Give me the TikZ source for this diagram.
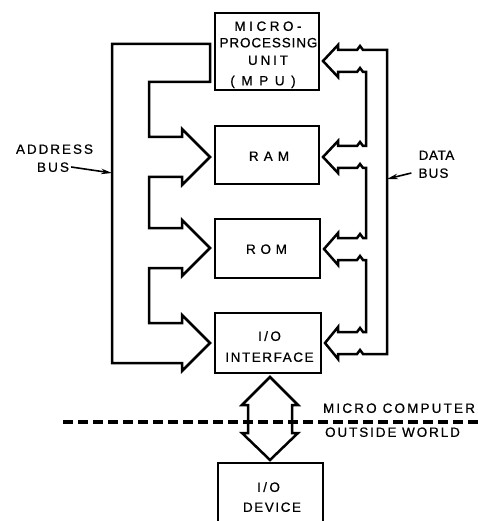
\documentclass[tikz,border=0pt]{standalone}
\usepackage{fontspec}
\setmainfont{Liberation Sans}
\newfontfamily\lett[FakeBold=0.6]{Liberation Sans}
\usetikzlibrary{arrows.meta}

\tikzset{
  boxframe/.style={draw, line width=2.6pt, rectangle, inner sep=0pt},
  bus/.style={draw, line width=2.5pt, line join=miter},
  lbl/.style={font=\lett\fontsize{13.5}{15}\selectfont\addfontfeature{LetterSpace=#1},
              inner sep=0pt, text height=9.7pt, text depth=0pt},
  lbl/.default=14,
  lblarrow/.style={line width=1.6pt, -{Stealth[length=11pt,width=5.5pt]}},
  border/.style={line width=4.5pt, dash pattern=on 10pt off 5pt},
}

\begin{document}
\begin{tikzpicture}[x=1pt,y=-1pt]
\useasboundingbox (0,0) rectangle (478,521);

% ---- functional blocks ----
\node[boxframe, minimum width=104pt, minimum height=77pt] (mpu) at (267,51.5) {};
\node[boxframe, minimum width=104pt, minimum height=58pt] (ram) at (267,155) {};
\node[boxframe, minimum width=105pt, minimum height=59pt] (rom) at (267.5,248.5) {};
\node[boxframe, minimum width=106pt, minimum height=60pt] (io)  at (268,343) {};

\node[lbl=26]  (mpu1) at (268,26)   {MICRO-};
\node[lbl=6.5] (mpu2) at (268.5,42.5) {PROCESSING};
\node[lbl=21]  (mpu3) at (268,60)   {UNIT};
\node[lbl=21]  (mpu4) at (263,80.5) {( M P U )};
\node[lbl=10]  (ramt) at (269,156) {R A M};
\node[lbl=7]   (romt) at (266.5,249) {R O M};
\node[lbl=18]  (io1)  at (269.5,336) {I/O};
\node[lbl=11.5] (io2) at (269.5,357) {INTERFACE};

% ---- I/O device (runs off the lower edge) ----
\begin{scope}
  \clip (0,0) rectangle (478,521);
  \coordinate (devbl) at (218,540);
  \coordinate (devtl) at (218,463);
  \coordinate (devtr) at (323,463);
  \coordinate (devbr) at (323,540);
  \draw[line width=2.6pt, line join=miter] (devbl) -- (devtl) -- (devtr) -- (devbr);
\end{scope}
\node[lbl=18]   (dev1) at (268.5,487) {I/O};
\node[lbl=11.5] (dev2) at (272,507) {DEVICE};

% ---- address bus (one outline with arrows into each block) ----
\draw[bus] (210,44) -- (112,44) -- (112,363) -- (182,363) -- (182,371)
  -- (210,343) -- (182,315) -- (182,323) -- (149,323) -- (149,268)
  -- (182,268) -- (182,276) -- (210,248) -- (182,220) -- (182,228)
  -- (149,228) -- (149,177) -- (182,177) -- (182,185) -- (210,157)
  -- (182,129) -- (182,137) -- (149,137) -- (149,82) -- (210,82) -- cycle;

% ---- data bus (bidirectional arrows at each block) ----
\draw[bus] (323,61) -- (338,45) -- (338,50) -- (357,50) -- (360,46) -- (363,50)
  -- (387,50) -- (387,354) -- (363,354) -- (360,350) -- (357,354) -- (338,354)
  -- (338,359) -- (325,343) -- (338,327) -- (338,332) -- (357,332) -- (360,328)
  -- (363,332) -- (366,332) -- (366,260) -- (363,260) -- (360,256) -- (357,260)
  -- (338,260) -- (338,265) -- (324,249) -- (338,233) -- (338,238) -- (357,238)
  -- (360,234) -- (363,238) -- (366,238) -- (366,168) -- (363,168) -- (360,164)
  -- (357,168) -- (338,168) -- (338,173) -- (323,157) -- (338,141) -- (338,146)
  -- (357,146) -- (360,142) -- (363,146) -- (366,146) -- (366,72) -- (363,72)
  -- (360,68) -- (357,72) -- (338,72) -- (338,77) -- cycle;

% ---- bus labels ----
\node[lbl=14.5] (addr)  at (54.5,149) {ADDRESS};
\node[lbl=15.5] (abusl) at (53,167)   {BUS};
\coordinate (abus) at (112,173);
\draw[lblarrow] ([xshift=2pt]abusl.east) -- (abus);

\node[lbl=4]  (data)  at (436.5,155) {DATA};
\node[lbl=8]  (dbusl) at (433.5,173) {BUS};
\coordinate (dbus) at (387,179);
\draw[lblarrow] ([xshift=-7pt]dbusl.west) -- (dbus);

% ---- boundary between the micro computer and the outside world ----
\coordinate (bl) at (63,422);
\coordinate (br) at (478,422);
\draw[border] (bl) -- (br);
\node[lbl=16] (mc) at (399,408)   {MICRO COMPUTER};
\node[lbl=14] (ow) at (392.5,432) {OUTSIDE WORLD};

% ---- I/O interface <-> I/O device ----
\draw[bus] (270,377) -- (298,405) -- (292,405) -- (292,433) -- (298,433)
  -- (270,460) -- (242,433) -- (248,433) -- (248,405) -- (242,405) -- cycle;

\end{tikzpicture}
\end{document}
